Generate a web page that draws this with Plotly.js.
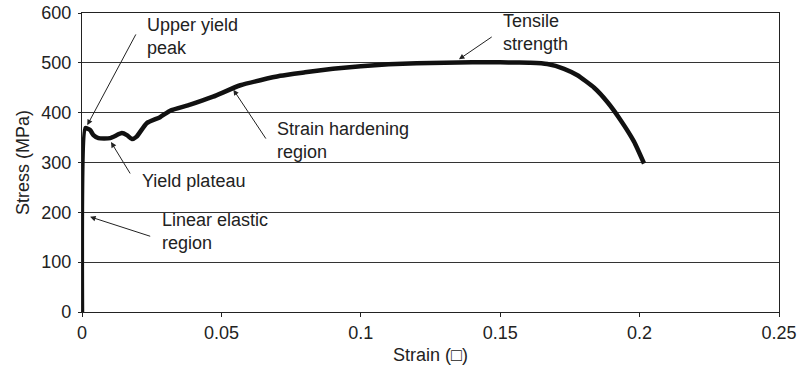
<!DOCTYPE html>
<html>
<head>
<meta charset="utf-8">
<script src="https://cdn.plot.ly/plotly-3.0.1.min.js"></script>
<style>html,body{margin:0;padding:0;background:#fff;}#chart{width:801px;height:370px;}</style>
</head>
<body>
<div id="chart"></div>
<script>
// Data
const strain = [0, 0.0012, 0.0029, 0.0041, 0.0059, 0.0101, 0.0143, 0.0161, 0.0179, 0.0196, 0.0232, 0.0280, 0.0316, 0.0388, 0.047, 0.0568, 0.0711, 0.08, 0.09, 0.10, 0.11, 0.12, 0.13, 0.14, 0.15, 0.156, 0.1609, 0.1669, 0.1729, 0.1777, 0.1837, 0.1885, 0.1932, 0.1980, 0.2016];
const stress = [0, 369, 365, 355, 349, 349, 359, 355, 347, 352, 379, 391, 404, 416, 432, 455, 474, 481, 488, 493, 497, 499, 500, 501, 501, 500.5, 500, 497.5, 488, 475, 450, 421, 385, 342, 298];

const xTickVals = [0, 0.05, 0.1, 0.15, 0.2, 0.25];
const xTickText = ['0', '0.05', '0.1', '0.15', '0.2', '0.25'];
const yTickVals = [0, 100, 200, 300, 400, 500, 600];

// Annotation labels: text, text position (strain, stress), arrow tail, arrow head
const labelTexts = ['Upper yield<br>peak', 'Yield plateau', 'Linear elastic<br>region', 'Strain hardening<br>region', 'Tensile<br>strength'];
const labelX = [0.0225, 0.0208, 0.0278, 0.0693, 0.1502];
const labelY = [552, 263, 161, 345, 561];
const tailX = [0.0196, 0.0176, 0.025, 0.0663, 0.1475];
const tailY = [560, 275, 151, 345, 554];
const headX = [0.0019, 0.0104, 0.0029, 0.0543, 0.1352];
const headY = [375, 341, 191, 446, 507];

const FONT = 'Liberation Sans, Arial, sans-serif';
const annotations = [];
for (let i = 0; i < labelTexts.length; i++) {
  annotations.push({
    x: labelX[i], y: labelY[i], xref: 'x', yref: 'y',
    text: labelTexts[i], showarrow: false, xanchor: 'left', yanchor: 'middle', align: 'left',
    font: {family: FONT, size: 18, color: '#222'}
  });
  annotations.push({
    x: headX[i], y: headY[i], xref: 'x', yref: 'y',
    ax: tailX[i], ay: tailY[i], axref: 'x', ayref: 'y',
    text: '', showarrow: true, arrowhead: 2, arrowsize: 1.1, arrowwidth: 1, arrowcolor: '#222'
  });
}

const trace = {
  x: strain, y: stress, type: 'scatter', mode: 'lines',
  line: {color: '#111', width: 4.5, shape: 'spline', smoothing: 0.5},
  hoverinfo: 'skip'
};

const layout = {
  width: 801, height: 370,
  margin: {l: 82, r: 22, t: 13, b: 58},
  paper_bgcolor: '#fff', plot_bgcolor: '#fff',
  showlegend: false,
  font: {family: FONT, color: '#222'},
  xaxis: {
    range: [0, 0.25], tickvals: xTickVals, ticktext: xTickText,
    showgrid: false, zeroline: false,
    showline: true, linecolor: '#222', linewidth: 1.2, mirror: true,
    ticks: 'outside', ticklen: 4, tickcolor: '#222', tickwidth: 1,
    tickfont: {family: FONT, size: 18, color: '#222'},
    title: {text: 'Strain (\u25A1)', font: {family: FONT, size: 18, color: '#222'}, standoff: 6}
  },
  yaxis: {
    range: [0, 600], tickvals: yTickVals,
    showgrid: true, gridcolor: '#333', gridwidth: 1, zeroline: false,
    showline: true, linecolor: '#222', linewidth: 1.2, mirror: true,
    ticks: 'outside', ticklen: 3, tickcolor: '#222', tickwidth: 1,
    ticklabelstandoff: 3,
    tickfont: {family: FONT, size: 18, color: '#222'},
    title: {text: 'Stress (MPa)', font: {family: FONT, size: 18, color: '#222'}, standoff: 6}
  },
  annotations: annotations
};

Plotly.newPlot('chart', [trace], layout, {staticPlot: true, displayModeBar: false});
</script>
</body>
</html>
